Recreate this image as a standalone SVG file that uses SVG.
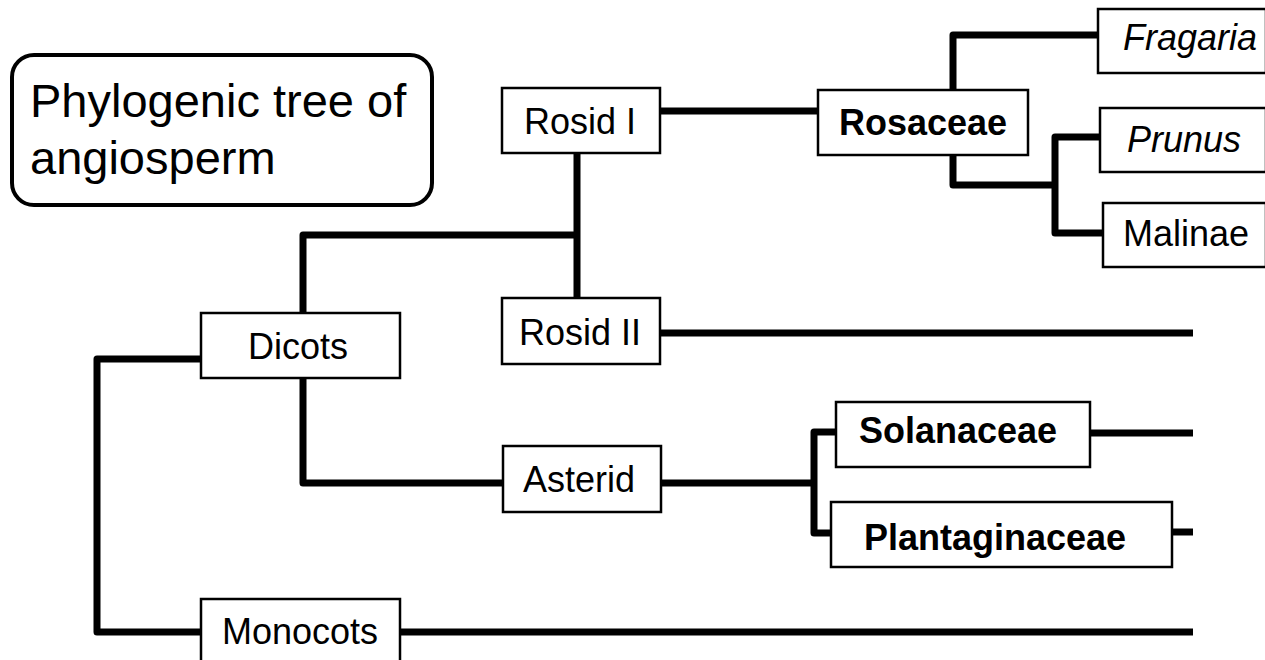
<svg xmlns="http://www.w3.org/2000/svg" width="1265" height="660" viewBox="0 0 1265 660">
<style>
.box{fill:#fff;stroke:#000;stroke-width:2.5}
.t{font-family:"Liberation Sans",Arial,sans-serif;font-size:36px;fill:#000}
.b{font-weight:bold}
.i{font-style:italic}
.c{fill:none;stroke:#000;stroke-width:7;stroke-linejoin:round;stroke-linecap:butt}
</style>
<rect width="1265" height="660" fill="#fff"/>
<g id="connectors">
<path class="c" d="M660,111 H818"/>
<path class="c" d="M577,153 V298"/>
<path class="c" d="M303,313 V235 H577"/>
<path class="c" d="M660,333 H1193"/>
<path class="c" d="M953,90 V35 H1098"/>
<path class="c" d="M953,155 V185 H1055"/>
<path class="c" d="M1100,137 H1055 V233 H1103"/>
<path class="c" d="M201,359 H97 V632 H201"/>
<path class="c" d="M303,378 V483 H503"/>
<path class="c" d="M661,483 H814"/>
<path class="c" d="M836,432 H814 V533 H831"/>
<path class="c" d="M1090,433 H1193"/>
<path class="c" d="M1172,532 H1193"/>
<path class="c" d="M400,632 H1193"/>
</g>
<g id="title">
<rect x="12" y="55" width="420" height="150" rx="22" fill="#fff" stroke="#000" stroke-width="4"/>
<text class="t" x="30" y="117" style="font-size:47px">Phylogenic tree of</text>
<text class="t" x="30" y="174" style="font-size:47px">angiosperm</text>
</g>
<g id="rosid1">
<rect class="box" x="502" y="88" width="158" height="65"/>
<text class="t" x="580" y="134" text-anchor="middle">Rosid I</text>
</g>
<g id="rosid2">
<rect class="box" x="502" y="298" width="158" height="66"/>
<text class="t" x="580" y="345" text-anchor="middle">Rosid II</text>
</g>
<g id="rosaceae">
<rect class="box" x="818" y="90" width="210" height="65"/>
<text class="t b" x="923" y="135" text-anchor="middle">Rosaceae</text>
</g>
<g id="fragaria">
<rect class="box" x="1098" y="9" width="168" height="64"/>
<text class="t i" x="1123" y="50">Fragaria</text>
</g>
<g id="prunus">
<rect class="box" x="1100" y="108" width="166" height="64"/>
<text class="t i" x="1127" y="152">Prunus</text>
</g>
<g id="malinae">
<rect class="box" x="1103" y="203" width="163" height="64"/>
<text class="t" x="1123" y="246">Malinae</text>
</g>
<g id="dicots">
<rect class="box" x="201" y="313" width="199" height="65"/>
<text class="t" x="298" y="359" text-anchor="middle">Dicots</text>
</g>
<g id="asterid">
<rect class="box" x="503" y="446" width="158" height="66"/>
<text class="t" x="579" y="492" text-anchor="middle">Asterid</text>
</g>
<g id="solanaceae">
<rect class="box" x="836" y="402" width="254" height="65"/>
<text class="t b" x="958" y="443" text-anchor="middle">Solanaceae</text>
</g>
<g id="plantaginaceae">
<rect class="box" x="831" y="502" width="341" height="65"/>
<text class="t b" x="995" y="550" text-anchor="middle">Plantaginaceae</text>
</g>
<g id="monocots">
<rect class="box" x="201" y="599" width="199" height="80"/>
<text class="t" x="300" y="644" text-anchor="middle">Monocots</text>
</g>
</svg>
